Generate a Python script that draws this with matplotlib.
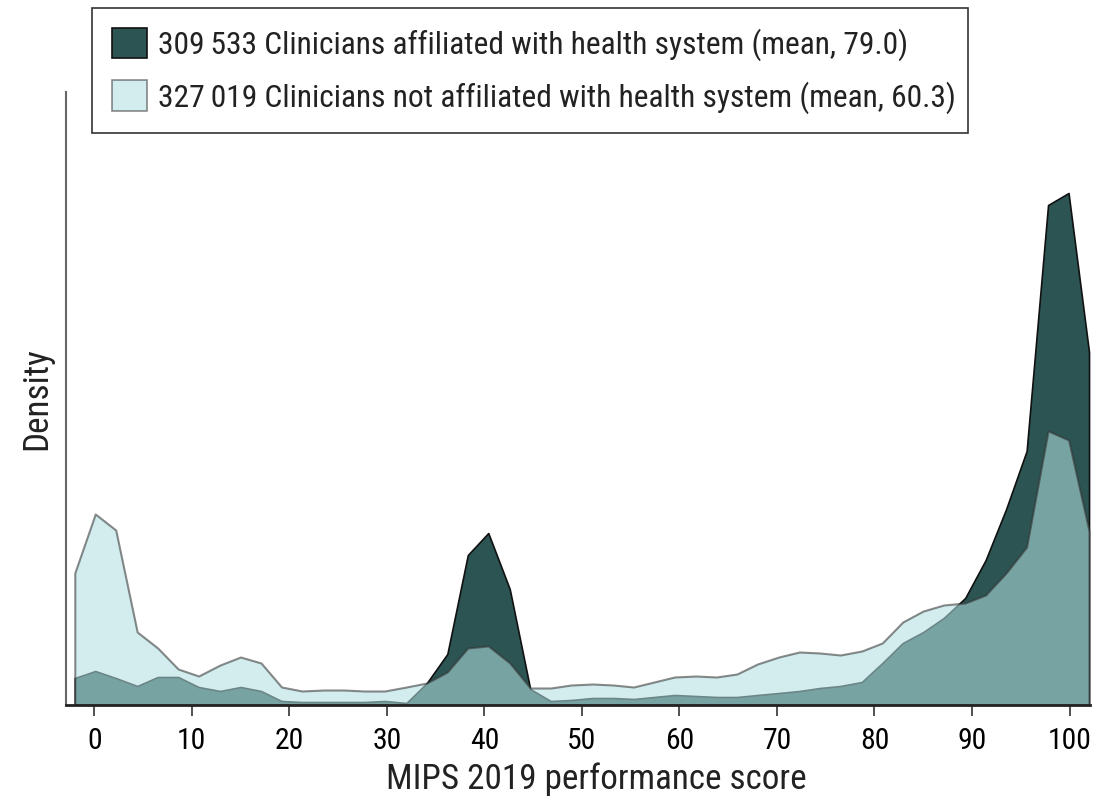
import numpy as np
import matplotlib.pyplot as plt
from matplotlib import font_manager as fm
from matplotlib.patches import Patch

# MIPS score grid of the density estimate
score = [-2.0, 0.1, 2.2, 4.4, 6.5, 8.6, 10.7, 12.9, 15.0, 17.1,
         19.2, 21.3, 23.5, 25.6, 27.7, 29.8, 32.0, 34.1, 36.2, 38.3,
         40.4, 42.6, 44.7, 46.8, 48.9, 51.1, 53.2, 55.3, 57.4, 59.5,
         61.7, 63.8, 65.9, 68.0, 70.2, 72.3, 74.4, 76.5, 78.7, 80.8,
         82.9, 85.0, 87.1, 89.3, 91.4, 93.5, 95.6, 97.8, 99.9, 102.0]

# density, arbitrary units
affiliated = [27, 34, 27, 19, 28, 28, 18, 14, 18, 14,
              4, 3, 3, 3, 3, 4, 2, 22, 51, 150,
              172, 116, 16, 4, 5, 7, 7, 6, 8, 10,
              9, 8, 8, 10, 12, 14, 17, 19, 23, 42,
              62, 73, 87, 107, 145, 196, 254, 500, 512, 353]
not_affiliated = [132, 191, 175, 73, 57, 36, 29, 40, 48, 42,
                  18, 14, 15, 15, 14, 14, 18, 22, 33, 57,
                  59, 42, 17, 17, 20, 21, 20, 18, 23, 28,
                  29, 28, 31, 41, 48, 53, 52, 50, 54, 62,
                  83, 94, 100, 102, 110, 132, 158, 274, 265, 174]

counts = ['309\u2009533', '327\u2009019']
groups = ['Clinicians affiliated with health system (mean, 79.0)',
          'Clinicians not affiliated with health system (mean, 60.3)']
labels = [c + ' ' + g for c, g in zip(counts, groups)]

dark = '#2b5452'
light = '#b3e0e2'


def pick_font():
    # prefer a condensed face, like the journal's
    good = []
    for f in fm.fontManager.ttflist:
        if f.style != 'normal' or f.weight not in (400, 'normal', 'regular'):
            continue
        if 'Narrow' in f.name or 'Condensed' in f.name or f.stretch in ('condensed', 'semi-condensed'):
            good.append(f)
    order = ['Liberation Sans Narrow', 'Roboto Condensed', 'Open Sans', 'Noto Sans', 'DejaVu Sans']
    good.sort(key=lambda f: next((i for i, n in enumerate(order) if f.name.startswith(n)), 99))
    if good:
        return good[0].name, good[0].stretch
    return 'Liberation Sans', 'normal'


font_name, font_stretch = pick_font()


def fp(size):
    return fm.FontProperties(family=[font_name, 'DejaVu Sans'], stretch=font_stretch, size=size)


fig = plt.figure(figsize=(11.14, 8.01), dpi=100)
ax = fig.add_axes([66 / 1114, 1 - 705 / 801, (1090 - 66) / 1114, (705 - 92) / 801])

ax.fill_between(score, affiliated, facecolor=dark, edgecolor='#111111', lw=1.2, zorder=1)
ax.fill_between(score, not_affiliated, facecolor=light, edgecolor='#333333', lw=1.5,
                alpha=0.57, zorder=1.1)

ax.set_xlim(-2.9, 102.1)
ax.set_ylim(0, 613)
ax.set_yticks([])
ax.set_xticks(range(0, 101, 10))
ax.tick_params(axis='x', length=8, width=1.2, color='#333333', pad=8)

for s in ['top', 'right']:
    ax.spines[s].set_visible(False)
ax.spines['left'].set_color('#666666')
ax.spines['left'].set_linewidth(1.5)
ax.spines['bottom'].set_color('#222222')
ax.spines['bottom'].set_linewidth(2)

# size text so it spans about what it spans in the reference
r = fig.canvas.get_renderer()


def fit(txt, target, cap=None):
    txt.set_fontproperties(fp(20))
    w = txt.get_window_extent(r).width
    s = 20 * target / w
    if cap:
        s = min(s, cap)
    txt.set_fontproperties(fp(s))
    return s


xl = ax.set_xlabel('MIPS 2019 performance score', color='#222222')
s_lab = fit(xl, 420, cap=27)
ax.xaxis.set_label_coords(0.518, -0.094)
yl = ax.set_ylabel('Density', color='#222222')
yl.set_fontproperties(fp(s_lab))
ax.yaxis.set_label_coords(-0.012, 0.5)

ticklabels = ax.get_xticklabels()
s_tick = fit(ticklabels[-1], 44, cap=23)
for t in ticklabels:
    t.set_fontproperties(fp(s_tick))

handles = [Patch(facecolor=dark, edgecolor='#111111', lw=1.2),
           Patch(facecolor=light, edgecolor='#333333', lw=1.2, alpha=0.57)]
probe = fig.text(0, 0, labels[0])
s_leg = fit(probe, 752, cap=24)
probe.remove()
px = s_leg * 100 / 72
leg = fig.legend(handles, labels, loc='upper left',
                 bbox_to_anchor=(92 / 1114, 1 - 132 / 801, 876 / 1114, 124 / 801),
                 mode='expand', borderaxespad=0, prop=fp(s_leg),
                 handlelength=35 / px, handleheight=35 / px,
                 handletextpad=0.35, labelspacing=0.62, borderpad=0.62, fancybox=False,
                 edgecolor='#333333', framealpha=1)
leg.get_frame().set_linewidth(1.2)
for t in leg.get_texts():
    t.set_color('#222222')

fig.savefig('out.png', dpi=100)
